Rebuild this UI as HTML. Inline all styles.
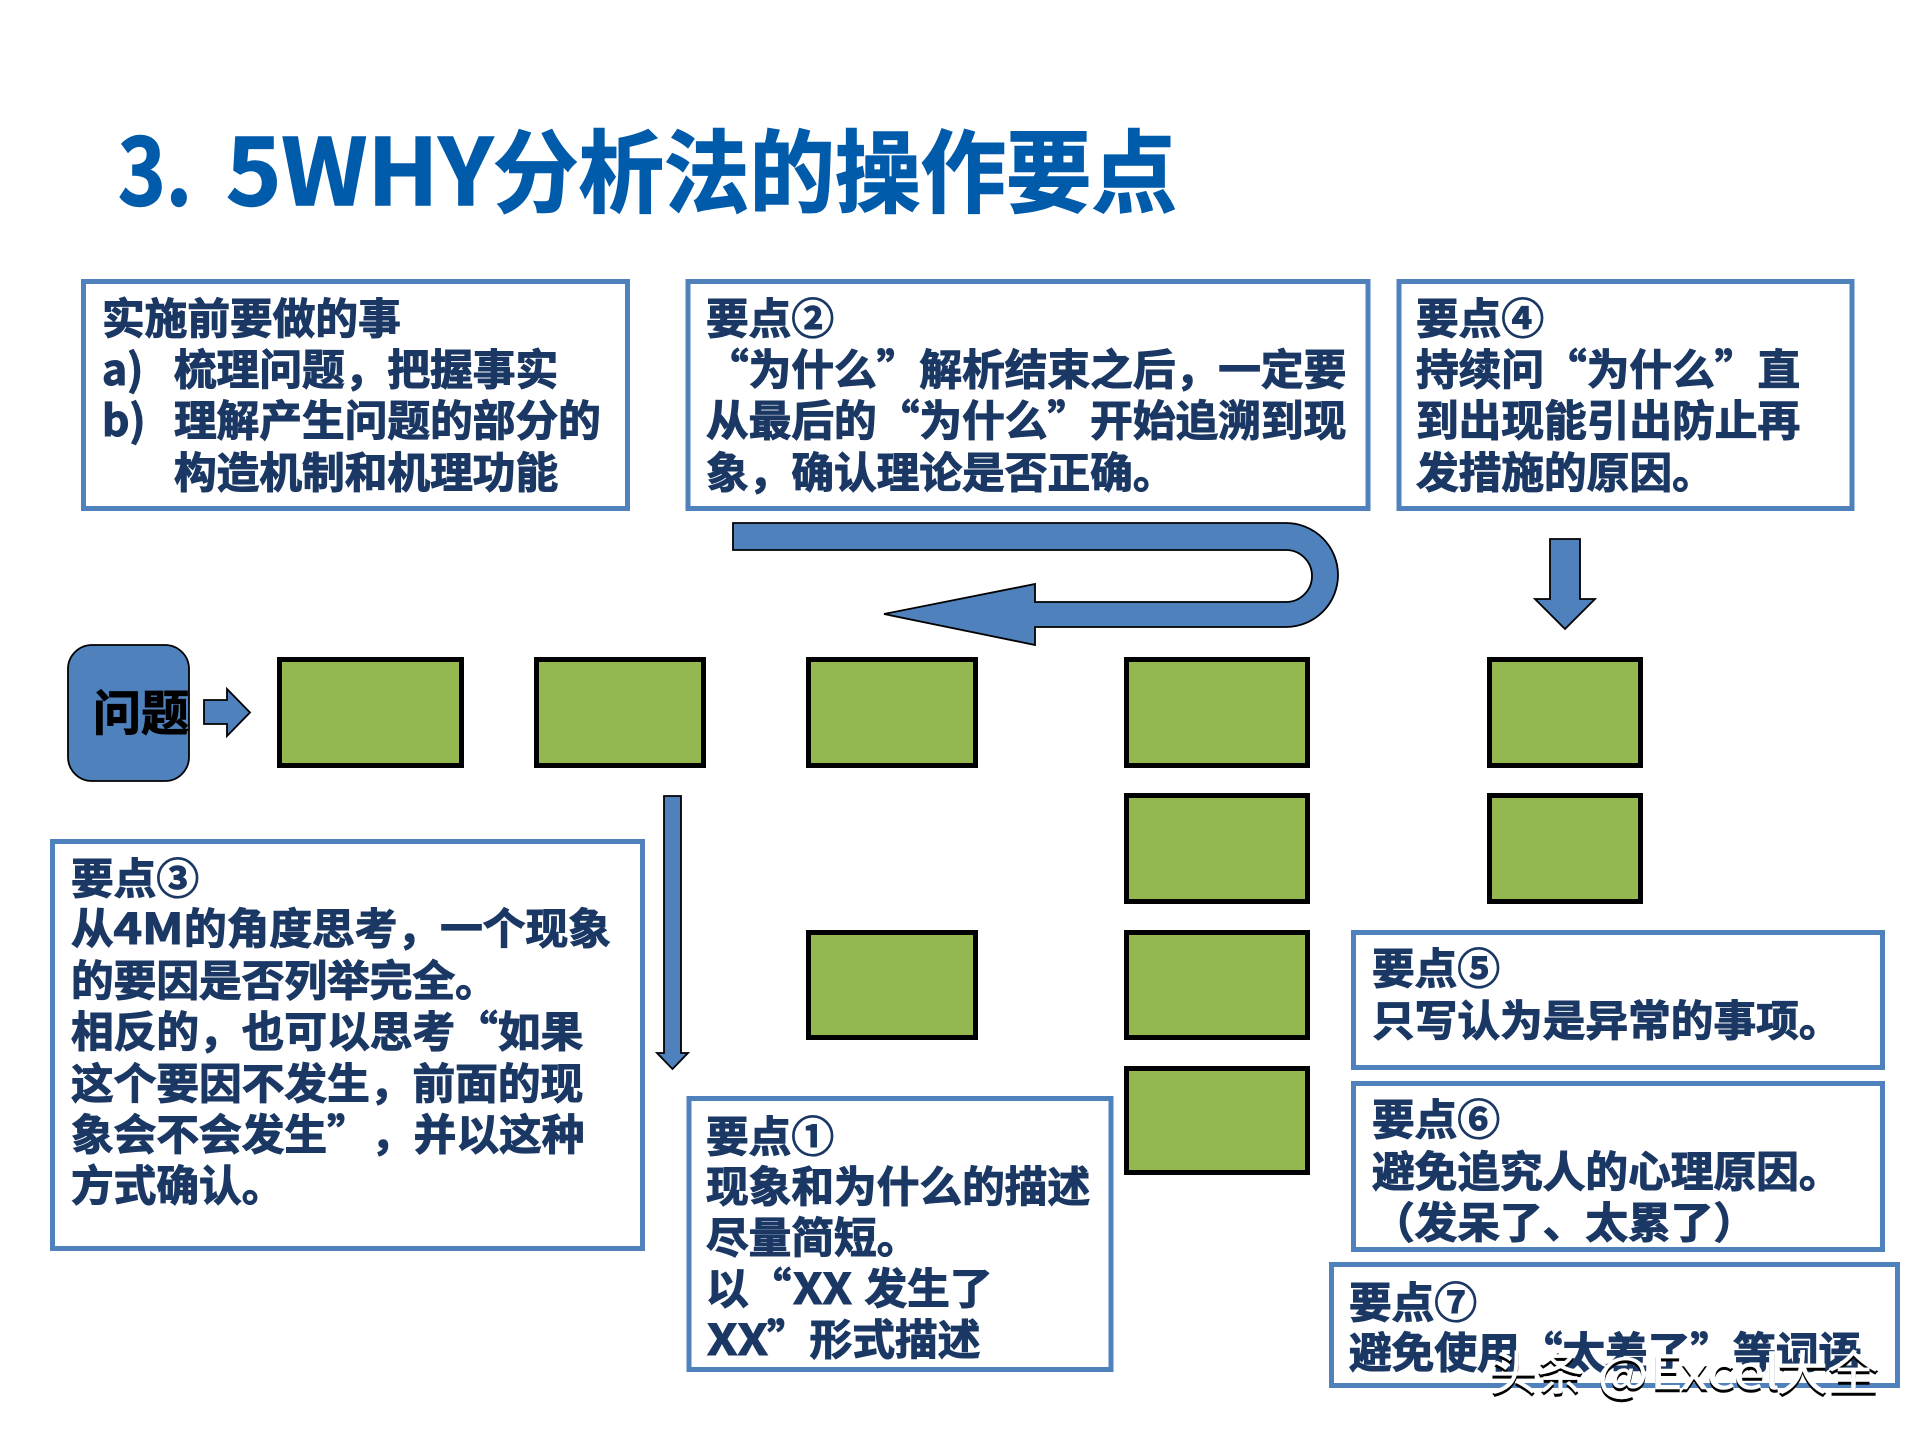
<!DOCTYPE html>
<html lang="zh-CN">
<head>
<meta charset="utf-8">
<title>3. 5WHY分析法的操作要点</title>
<style>
html,body{margin:0;padding:0;background:#fff;width:1920px;height:1440px;overflow:hidden}
svg{display:block}
text{font-family:"Noto Sans CJK SC","Liberation Sans",sans-serif;font-weight:700}
.t text{font-size:42.7px;fill:#1b3864;stroke:#1b3864;stroke-width:1.1px}
.box{fill:#fff;stroke:#4f81bd;stroke-width:5}
.g{fill:#94b74f;stroke:#000;stroke-width:5}
.a{fill:#4f81bd;stroke:#000;stroke-width:1.8;stroke-linejoin:miter}
.wk text{fill:#000;stroke:#000;stroke-width:.5;font-weight:400}
.ww text{fill:#fff;stroke:#fff;stroke-width:.5;font-weight:400}
</style>
</head>
<body>
<svg width="1920" height="1440" viewBox="0 0 1920 1440" xmlns="http://www.w3.org/2000/svg">
<rect width="1920" height="1440" fill="#fff"/>

<!-- title -->
<g fill="#005bab" stroke="#005bab" stroke-width="1.4">
<text x="118" y="205" font-size="92" textLength="74" lengthAdjust="spacingAndGlyphs">3.</text>
<text x="226" y="205" font-size="92" textLength="267" lengthAdjust="spacingAndGlyphs">5WHY</text>
<text x="493" y="205" font-size="90" textLength="684" lengthAdjust="spacingAndGlyphs">分析法的操作要点</text>
</g>

<!-- boxes -->
<rect class="box" x="83.5" y="281.5" width="544" height="227"/>
<rect class="box" x="688" y="281.5" width="680" height="227"/>
<rect class="box" x="1399" y="281.5" width="453" height="227"/>
<rect class="box" x="52.5" y="841.5" width="590" height="407"/>
<rect class="box" x="689" y="1098.5" width="422" height="271"/>
<rect class="box" x="1353.5" y="932.5" width="529" height="135"/>
<rect class="box" x="1353.5" y="1083.5" width="529" height="166"/>
<rect class="box" x="1331.5" y="1264.5" width="566" height="121"/>

<!-- green nodes -->
<rect class="g" x="279.5" y="659.5" width="182" height="106"/>
<rect class="g" x="536.5" y="659.5" width="167" height="106"/>
<rect class="g" x="808.5" y="659.5" width="167" height="106"/>
<rect class="g" x="1126.5" y="659.5" width="181" height="106"/>
<rect class="g" x="1489.5" y="659.5" width="151" height="106"/>
<rect class="g" x="1126.5" y="795.5" width="181" height="106"/>
<rect class="g" x="1489.5" y="795.5" width="151" height="106"/>
<rect class="g" x="808.5" y="932.5" width="167" height="105"/>
<rect class="g" x="1126.5" y="932.5" width="181" height="105"/>
<rect class="g" x="1126.5" y="1068.5" width="181" height="104"/>

<!-- problem node -->
<rect x="68" y="645" width="121" height="136" rx="24" ry="24" fill="#4f81bd" stroke="#000" stroke-width="1.8"/>
<text x="93" y="730" font-size="48" fill="#000" stroke="#000" stroke-width="1">问题</text>

<!-- arrows -->
<path class="a" d="M204 700H227V689L250 712.5L227 736V724H204Z"/>
<path class="a" d="M664 796H681V1053H688L672.5 1069L657 1053H664Z"/>
<path class="a" d="M1550 539H1580V599H1595L1565 629L1535 599H1550Z"/>
<path class="a" d="M733 523H1286A52 52 0 0 1 1338 575A52 52 0 0 1 1286 627H1035V645L884 614L1035 584V602H1286A26 26 0 0 0 1312 576A26 26 0 0 0 1286 550H733Z"/>

<!-- box text -->
<g class="t">
<text x="102" y="334">实施前要做的事</text>
<text x="102" y="385">a)</text><text x="174" y="385">梳理问题，把握事实</text>
<text x="102" y="436">b)</text><text x="174" y="436">理解产生问题的部分的</text>
<text x="174" y="488">构造机制和机理功能</text>

<text x="706" y="334">要点②</text>
<text x="706" y="385">“为什么”解析结束之后，一定要</text>
<text x="706" y="436">从最后的“为什么”开始追溯到现</text>
<text x="706" y="488">象，确认理论是否正确。</text>

<text x="1416" y="334">要点④</text>
<text x="1416" y="385">持续问“为什么”直</text>
<text x="1416" y="436">到出现能引出防止再</text>
<text x="1416" y="488">发措施的原因。</text>

<text x="71" y="894">要点③</text>
<text x="71" y="944">从</text><text x="113.5" y="944" textLength="70" lengthAdjust="spacingAndGlyphs">4M</text><text x="184" y="944">的角度思考，一个现象</text>
<text x="71" y="996">的要因是否列举完全。</text>
<text x="71" y="1047">相反的，也可以思考“如果</text>
<text x="71" y="1099">这个要因不发生，前面的现</text>
<text x="71" y="1150">象会不会发生”</text><text x="371" y="1150">，并以这种</text>
<text x="71" y="1201">方式确认。</text>

<text x="706" y="1152">要点①</text>
<text x="706" y="1202">现象和为什么的描述</text>
<text x="706" y="1253">尽量简短。</text>
<text x="706" y="1304">以“</text><text x="793" y="1304" textLength="59" lengthAdjust="spacingAndGlyphs">XX</text><text x="864.5" y="1304">发生了</text>
<text x="707" y="1355" textLength="61" lengthAdjust="spacingAndGlyphs">XX</text><text x="767" y="1355">”形式描述</text>

<text x="1372" y="984">要点⑤</text>
<text x="1372" y="1036">只写认为是异常的事项。</text>

<text x="1372" y="1135">要点⑥</text>
<text x="1372" y="1187">避免追究人的心理原因。</text>
<text x="1372" y="1238">（发呆了、太累了）</text>

<text x="1349" y="1318">要点⑦</text>
<text x="1349" y="1368">避免使用“太差了”等词语</text>
</g>

<!-- watermark -->
<g class="wk" font-size="47">
<text x="1490" y="1393" textLength="94" lengthAdjust="spacingAndGlyphs">头条</text>
<text x="1598" y="1394" textLength="50" lengthAdjust="spacingAndGlyphs">@</text>
<text x="1650" y="1392" textLength="130" lengthAdjust="spacingAndGlyphs">Excel</text>
<text x="1777" y="1393" textLength="102" lengthAdjust="spacingAndGlyphs">大全</text>
</g>
<g class="ww" font-size="47">
<text x="1490" y="1390" textLength="94" lengthAdjust="spacingAndGlyphs">头条</text>
<text x="1598" y="1391" textLength="50" lengthAdjust="spacingAndGlyphs">@</text>
<text x="1650" y="1389" textLength="130" lengthAdjust="spacingAndGlyphs">Excel</text>
<text x="1777" y="1390" textLength="102" lengthAdjust="spacingAndGlyphs">大全</text>
</g>
</svg>
</body>
</html>
